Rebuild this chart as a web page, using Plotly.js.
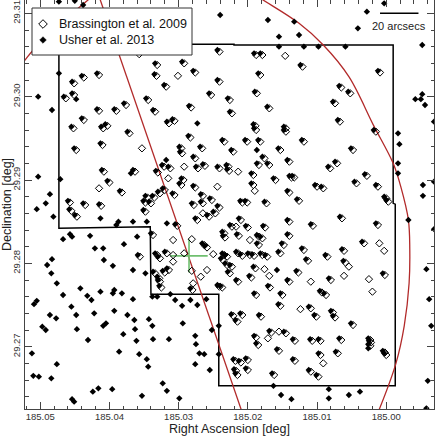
<!DOCTYPE html>
<html><head><meta charset="utf-8">
<script src="https://cdn.plot.ly/plotly-3.0.1.min.js"></script>
<style>html,body{margin:0;padding:0;background:#fff}#chart{width:436px;height:436px}</style>
</head><body><div id="chart"></div>
<script>
// ---- data (degrees) ----
const matchedUsherRA = [185.0334,185.0295,185.0279,185.0244,185.0418,185.0440,185.0454,185.0335,185.0321,185.0244,
185.0454,185.0466,185.0256,185.0418,185.0393,185.0379,185.0440,185.0412,185.0406,185.0455,
185.0374,185.0451,185.0413,185.0411,185.0403,185.0385,185.0460,185.0438,185.0415,185.0458,
185.0450,185.0191,185.0182,185.0124,185.0012,185.0185,185.0190,185.0068,185.0055,185.0077,
185.0070,185.0018,185.0122,185.0051,185.0084,185.0074,185.0031,185.0136,185.0103,185.0094,
185.0046,185.0015,185.0003,185.0000,185.0129,185.0067,185.0347,185.0285,185.0229,185.0172,
185.0226,185.0337,185.0309,185.0317,185.0192,185.0191,185.0148,185.0148,185.0286,185.0237,
185.0204,185.0185,185.0299,185.0298,185.0269,185.0224,185.0156,185.0279,185.0179,185.0187,
185.0172,185.0143,185.0324,185.0315,185.0275,185.0265,185.0244,185.0231,185.0230,185.0195,
185.0163,185.0140,185.0366,185.0333,185.0296,185.0299,185.0279,185.0195,185.0143,185.0323,
185.0330,185.0309,185.0348,185.0338,185.0351,185.0343,185.0268,185.0255,185.0281,185.0268,
185.0211,185.0204,185.0176,185.0351,185.0244,185.0250,185.0259,185.0305,185.0276,185.0143,
185.0226,185.0203,185.0178,185.0340,185.0237,185.0236,185.0216,185.0187,185.0182,185.0143,
185.0266,185.0262,185.0187,185.0151,185.0334,185.0330,185.0320,185.0237,185.0233,185.0217,
185.0211,185.0200,185.0194,185.0182,185.0175,185.0156,185.0359,185.0337,185.0331,185.0330,
185.0323,185.0317,185.0239,185.0233,185.0226,185.0229,185.0283,185.0244,185.0240,185.0217,
185.0192,185.0198,185.0143,185.0171,185.0191,185.0153,185.0156,185.0328,185.0213,185.0109,
185.0015,185.0122,185.0088,185.0064,185.0035,185.0116,185.0130,185.0062,185.0083,185.0005,
185.0096,185.0090,185.0112,185.0104,185.0080,185.0077,185.0051,185.0184,185.0218,185.0211,
185.0224,185.0169,185.0148,185.0191,185.0188,185.0135,185.0110,185.0098,185.0068,185.0026,
185.0025,185.0026,185.0005,185.0003,185.0158,185.0135,185.0098,185.0073,185.0221,185.0213,
185.0203,185.0220,185.0218,185.0203,185.0165,185.0112,185.0101];
const matchedUsherDec = [29.3040,29.3042,29.3031,29.3056,29.3028,29.3025,29.3018,29.3027,29.3014,29.3020,
29.3004,29.3000,29.3004,29.2985,29.2985,29.2992,29.2974,29.2964,29.2967,29.2964,
29.2958,29.2938,29.2944,29.2912,29.2899,29.2887,29.2875,29.2872,29.2871,29.2865,
29.2858,29.3052,29.3052,29.3038,29.3031,29.3028,29.3006,29.3013,29.3006,29.2994,
29.2972,29.2960,29.2948,29.2938,29.2916,29.2922,29.2907,29.2905,29.2894,29.2892,
29.2898,29.2894,29.2880,29.2876,29.2877,29.2856,29.2998,29.2989,29.2998,29.2988,
29.2982,29.2984,29.2973,29.2970,29.2967,29.2962,29.2964,29.2960,29.2953,29.2948,
29.2948,29.2948,29.2940,29.2934,29.2940,29.2936,29.2938,29.2928,29.2928,29.2920,
29.2920,29.2924,29.2918,29.2916,29.2916,29.2919,29.2916,29.2918,29.2913,29.2908,
29.2902,29.2905,29.2912,29.2911,29.2902,29.2896,29.2893,29.2896,29.2887,29.2890,
29.2886,29.2884,29.2881,29.2881,29.2875,29.2874,29.2883,29.2878,29.2872,29.2874,
29.2875,29.2875,29.2874,29.2864,29.2869,29.2862,29.2858,29.2847,29.2854,29.2852,
29.2846,29.2845,29.2845,29.2836,29.2838,29.2833,29.2835,29.2834,29.2832,29.2835,
29.2824,29.2821,29.2824,29.2824,29.2812,29.2808,29.2814,29.2812,29.2810,29.2814,
29.2811,29.2812,29.2811,29.2812,29.2810,29.2814,29.2810,29.2790,29.2784,29.2780,
29.2791,29.2794,29.2806,29.2800,29.2798,29.2790,29.2770,29.2774,29.2773,29.2780,
29.2796,29.2785,29.2780,29.2773,29.2764,29.2764,29.2751,29.2773,29.2854,29.2847,
29.2848,29.2818,29.2810,29.2817,29.2826,29.2805,29.2791,29.2803,29.2782,29.2788,
29.2767,29.2764,29.2748,29.2738,29.2743,29.2737,29.2728,29.2738,29.2732,29.2740,
29.2739,29.2719,29.2718,29.2713,29.2704,29.2709,29.2709,29.2709,29.2710,29.2710,
29.2707,29.2703,29.2695,29.2692,29.2697,29.2685,29.2692,29.2694,29.2685,29.2683,
29.2686,29.2673,29.2668,29.2674,29.2668,29.2672,29.2666];
const matchedBrassRA = [185.0331,185.0292,185.0276,185.0241,185.0415,185.0437,185.0451,185.0332,185.0318,185.0241,
185.0451,185.0463,185.0253,185.0415,185.0390,185.0376,185.0437,185.0409,185.0403,185.0452,
185.0371,185.0448,185.0410,185.0408,185.0400,185.0382,185.0457,185.0435,185.0412,185.0455,
185.0447,185.0188,185.0179,185.0121,185.0009,185.0182,185.0187,185.0065,185.0052,185.0074,
185.0067,185.0015,185.0119,185.0048,185.0081,185.0071,185.0028,185.0133,185.0100,185.0091,
185.0043,185.0012,185.0000,184.9997,185.0126,185.0064,185.0344,185.0282,185.0226,185.0169,
185.0223,185.0334,185.0306,185.0314,185.0189,185.0188,185.0145,185.0145,185.0283,185.0234,
185.0201,185.0182,185.0296,185.0295,185.0266,185.0221,185.0153,185.0276,185.0176,185.0184,
185.0169,185.0140,185.0321,185.0312,185.0272,185.0262,185.0241,185.0228,185.0227,185.0192,
185.0160,185.0137,185.0363,185.0330,185.0293,185.0296,185.0276,185.0192,185.0140,185.0320,
185.0327,185.0306,185.0345,185.0335,185.0348,185.0340,185.0265,185.0252,185.0278,185.0265,
185.0208,185.0201,185.0173,185.0348,185.0241,185.0247,185.0256,185.0302,185.0273,185.0140,
185.0223,185.0200,185.0175,185.0337,185.0234,185.0233,185.0213,185.0184,185.0179,185.0140,
185.0263,185.0259,185.0184,185.0148,185.0331,185.0327,185.0317,185.0234,185.0230,185.0214,
185.0208,185.0197,185.0191,185.0179,185.0172,185.0153,185.0356,185.0334,185.0328,185.0327,
185.0320,185.0314,185.0236,185.0230,185.0223,185.0226,185.0280,185.0241,185.0237,185.0214,
185.0189,185.0195,185.0140,185.0168,185.0188,185.0150,185.0153,185.0325,185.0210,185.0106,
185.0012,185.0119,185.0085,185.0061,185.0032,185.0113,185.0127,185.0059,185.0080,185.0002,
185.0093,185.0087,185.0109,185.0101,185.0077,185.0074,185.0048,185.0181,185.0215,185.0208,
185.0221,185.0166,185.0145,185.0188,185.0185,185.0132,185.0107,185.0095,185.0065,185.0023,
185.0022,185.0023,185.0002,185.0000,185.0155,185.0132,185.0095,185.0070,185.0218,185.0210,
185.0200,185.0217,185.0215,185.0200,185.0162,185.0109,185.0098];
const matchedBrassDec = [29.3038,29.3040,29.3029,29.3054,29.3026,29.3023,29.3016,29.3025,29.3012,29.3018,
29.3002,29.2998,29.3002,29.2983,29.2983,29.2990,29.2972,29.2962,29.2965,29.2962,
29.2956,29.2936,29.2942,29.2910,29.2897,29.2885,29.2873,29.2870,29.2869,29.2863,
29.2856,29.3050,29.3050,29.3036,29.3029,29.3026,29.3004,29.3011,29.3004,29.2992,
29.2970,29.2958,29.2946,29.2936,29.2914,29.2920,29.2905,29.2903,29.2892,29.2890,
29.2896,29.2892,29.2878,29.2874,29.2875,29.2854,29.2996,29.2987,29.2996,29.2986,
29.2980,29.2982,29.2971,29.2968,29.2965,29.2960,29.2962,29.2958,29.2951,29.2946,
29.2946,29.2946,29.2938,29.2932,29.2938,29.2934,29.2936,29.2926,29.2926,29.2918,
29.2918,29.2922,29.2916,29.2914,29.2914,29.2917,29.2914,29.2916,29.2911,29.2906,
29.2900,29.2903,29.2910,29.2909,29.2900,29.2894,29.2891,29.2894,29.2885,29.2888,
29.2884,29.2882,29.2879,29.2879,29.2873,29.2872,29.2881,29.2876,29.2870,29.2872,
29.2873,29.2873,29.2872,29.2862,29.2867,29.2860,29.2856,29.2845,29.2852,29.2850,
29.2844,29.2843,29.2843,29.2834,29.2836,29.2831,29.2833,29.2832,29.2830,29.2833,
29.2822,29.2819,29.2822,29.2822,29.2810,29.2806,29.2812,29.2810,29.2808,29.2812,
29.2809,29.2810,29.2809,29.2810,29.2808,29.2812,29.2808,29.2788,29.2782,29.2778,
29.2789,29.2792,29.2804,29.2798,29.2796,29.2788,29.2768,29.2772,29.2771,29.2778,
29.2794,29.2783,29.2778,29.2771,29.2762,29.2762,29.2749,29.2771,29.2852,29.2845,
29.2846,29.2816,29.2808,29.2815,29.2824,29.2803,29.2789,29.2801,29.2780,29.2786,
29.2765,29.2762,29.2746,29.2736,29.2741,29.2735,29.2726,29.2736,29.2730,29.2738,
29.2737,29.2717,29.2716,29.2711,29.2702,29.2707,29.2707,29.2707,29.2708,29.2708,
29.2705,29.2701,29.2693,29.2690,29.2695,29.2683,29.2690,29.2692,29.2683,29.2681,
29.2684,29.2671,29.2666,29.2672,29.2666,29.2670,29.2664];
const usherOnlyRA = [185.0473,185.0450,185.0438,185.0473,185.0448,185.0503,185.0483,185.0503,185.0471,185.0486,
185.0492,185.0505,185.0481,185.0240,185.0171,185.0133,185.0028,185.0003,185.0041,185.0155,
185.0126,185.0155,185.0119,185.0098,185.0059,184.9948,184.9958,184.9950,184.9948,184.9944,
184.9931,184.9983,184.9981,184.9983,184.9983,184.9947,184.9947,184.9931,185.0273,185.0187,
185.0318,185.0369,185.0366,185.0346,185.0317,185.0360,185.0366,185.0348,185.0158,185.0338,
185.0331,185.0312,185.0305,185.0295,185.0283,185.0273,185.0260,185.0366,185.0413,185.0387,
185.0390,185.0457,185.0454,185.0467,185.0428,185.0421,185.0409,185.0379,185.0483,185.0490,
185.0484,185.0408,185.0395,185.0476,185.0442,185.0467,185.0432,185.0413,185.0426,185.0395,
185.0393,185.0382,185.0509,185.0505,185.0486,185.0477,185.0455,185.0448,185.0422,185.0409,
185.0405,185.0393,185.0374,185.0364,185.0343,185.0338,185.0363,185.0497,185.0492,185.0447,
185.0431,185.0380,185.0361,185.0337,185.0314,185.0294,185.0276,185.0512,185.0386,185.0357,
185.0346,185.0344,185.0476,185.0275,185.0270,185.0263,185.0276,185.0255,185.0252,185.0510,
185.0502,185.0484,185.0323,185.0317,185.0424,185.0416,185.0396,185.0353,185.0299,185.0454,
185.0451,184.9968,184.9931,185.0026,185.0163,185.0152,185.0137,185.0083,185.0083,185.0054,
185.0038,184.9942,184.9938,184.9935,184.9940,184.9942,185.0242,185.0242];
const usherOnlyDec = [29.3114,29.3115,29.3110,29.3028,29.2997,29.3000,29.2984,29.2904,29.2901,29.2883,
29.2872,29.2865,29.2856,29.3098,29.3092,29.3090,29.3102,29.3112,29.3082,29.3072,
29.3074,29.3060,29.3060,29.3060,29.3060,29.3062,29.2997,29.2997,29.3003,29.2990,
29.2970,29.2956,29.2943,29.2920,29.2908,29.2894,29.2881,29.2898,29.2968,29.2936,
29.2924,29.2908,29.2850,29.2850,29.2848,29.2832,29.2792,29.2788,29.2792,29.2760,
29.2760,29.2763,29.2756,29.2749,29.2756,29.2750,29.2757,29.2757,29.2854,29.2850,
29.2846,29.2835,29.2832,29.2829,29.2833,29.2818,29.2818,29.2823,29.2805,29.2798,
29.2788,29.2804,29.2797,29.2776,29.2770,29.2762,29.2761,29.2766,29.2756,29.2764,
29.2768,29.2764,29.2751,29.2755,29.2738,29.2734,29.2748,29.2738,29.2740,29.2725,
29.2728,29.2743,29.2738,29.2732,29.2733,29.2725,29.2721,29.2724,29.2720,29.2721,
29.2708,29.2715,29.2707,29.2709,29.2709,29.2728,29.2713,29.2692,29.2694,29.2691,
29.2685,29.2676,29.2679,29.2703,29.2692,29.2691,29.2679,29.2672,29.2720,29.2665,
29.2664,29.2662,29.2656,29.2647,29.2646,29.2650,29.2649,29.2641,29.2638,29.2637,
29.2634,29.2852,29.2841,29.2698,29.2653,29.2642,29.2637,29.2649,29.2638,29.2642,
29.2646,29.2793,29.2757,29.2725,29.2659,29.2626,29.2725,29.2691];
const brassOnlyRA = [185.0357,185.0301,185.0415,185.0146,185.0353,185.0292,185.0214,185.0315,185.0244,185.0190,
185.0308,185.0281,185.0197,185.0308,185.0292,185.0250,185.0308,185.0281,185.0259,185.0268,
185.0279,185.0176,185.0169,185.0217,185.0265,185.0010,185.0003,185.0054,185.0061,185.0025,
185.0020,185.0109,185.0124,185.0171,185.0155,185.0091];
const brassOnlyDec = [29.3051,29.3025,29.2890,29.3049,29.2938,29.2916,29.2910,29.2902,29.2892,29.2887,
29.2828,29.2829,29.2828,29.2810,29.2812,29.2811,29.2802,29.2791,29.2792,29.2784,
29.2776,29.2793,29.2785,29.2844,29.2860,29.2824,29.2815,29.2796,29.2785,29.2781,
29.2766,29.2778,29.2745,29.2710,29.2718,29.2680];

// field footprint outline
const footprintRA  = [185.0473,185.0473,185.0341,185.0340,185.0242,185.0242,184.9987,184.9987,184.9990,184.9990,185.0220,185.0220,185.0473];
const footprintDec = [29.3063,29.2842,29.2844,29.2763,29.2763,29.2653,29.2653,29.2871,29.2872,29.3062,29.3062,29.3063,29.3063];
// red line (through the centre) and red ellipse arcs
const axisLineRA  = [185.0419,185.0204];
const axisLineDec = [29.3130,29.2611];
const arcWestRA  = [185.0529,185.0522,185.0510,185.0471,185.0431,185.0425];
const arcWestDec = [29.3037,29.3044,29.3056,29.3088,29.3116,29.3121];
const arcEastRA  = [185.0197,185.0178,185.0126,185.0091,185.0054,185.0018,184.9990,184.9979,184.9968,184.9966,184.9967,184.9974,184.9986,185.0010,185.0020];
const arcEastDec = [29.3126,29.3116,29.3088,29.3062,29.3024,29.2965,29.2920,29.2892,29.2852,29.2817,29.2776,29.2725,29.2680,29.2625,29.2606];
// galaxy centre cross
const centreRA = [185.0285], centreDec = [29.2809];
const crossHalfRA = 0.0027, crossHalfDec = 0.0020;
// scale bar
const scaleBarArcsec = 20, scaleBarStartRA = 185.0009, scaleBarDec = 29.3100;

// ---- layout helpers (pixel placement of legend inside plot area) ----
const M = {l:25, r:2, t:0, b:27};
const PW = 436 - M.l - M.r, PH = 436 - M.t - M.b;
const X = px => (px - M.l) / PW;
const Y = py => (PH + M.t - py) / PH;
function diamondPath(cx, cy, h){
  return `M ${X(cx)},${Y(cy-h)} L ${X(cx+h)},${Y(cy)} L ${X(cx)},${Y(cy+h)} L ${X(cx-h)},${Y(cy)} Z`;
}
const red = '#b22a2a';
const traces = [
  {x: footprintRA, y: footprintDec, mode:'lines', line:{color:'#000', width:1.5}, hoverinfo:'skip'},
  {x: axisLineRA, y: axisLineDec, mode:'lines', line:{color:red, width:1.3}, hoverinfo:'skip'},
  {x: arcWestRA, y: arcWestDec, mode:'lines', line:{color:red, width:1.3, shape:'spline'}, hoverinfo:'skip'},
  {x: arcEastRA, y: arcEastDec, mode:'lines', line:{color:red, width:1.3, shape:'spline'}, hoverinfo:'skip'},
  {x: centreRA, y: centreDec, mode:'markers', marker:{size:1, opacity:0},
   error_x:{type:'constant', value:crossHalfRA, width:0, thickness:1.6, color:'#6fbf6f'},
   error_y:{type:'constant', value:crossHalfDec, width:0, thickness:1.6, color:'#6fbf6f'}},
  {name:'Brassington et al. 2009', x: matchedBrassRA.concat(brassOnlyRA), y: matchedBrassDec.concat(brassOnlyDec),
   mode:'markers', marker:{symbol:'diamond-open', size:5.6, color:'#000', line:{width:1, color:'#000'}}},
  {name:'Usher et al. 2013', x: matchedUsherRA.concat(usherOnlyRA), y: matchedUsherDec.concat(usherOnlyDec),
   mode:'markers', marker:{symbol:'diamond', size:4.9, color:'#000', line:{width:0}}}
];
const axCommon = {showgrid:false, zeroline:false, showline:true, linecolor:'#444', linewidth:1,
  mirror:'allticks', ticks:'inside', ticklen:7, tickwidth:1, tickcolor:'#444', tickmode:'linear', dtick:0.01,
  tickformat:'.2f', tickfont:{size:9.5, color:'#333'}, automargin:false};
const layout = {
  width:436, height:436, margin:M, showlegend:false,
  paper_bgcolor:'#fff', plot_bgcolor:'#fff',
  font:{family:'"Liberation Sans", Arial, sans-serif', color:'#222'},
  xaxis: Object.assign({}, axCommon, {range:[185.0522,184.9931], tick0:185.00, ticklabelstandoff:-1,
    minor:{dtick:0.002, tick0:185.00, ticks:'inside', ticklen:3.5, tickcolor:'#444', showgrid:false},
    title:{text:'Right Ascension [deg]', font:{size:12.5, color:'#222'}, standoff:3}}),
  yaxis: Object.assign({}, axCommon, {range:[29.26252,29.3116], tick0:29.27, tickangle:-90,
    minor:{dtick:0.002, tick0:29.27, ticks:'inside', ticklen:3.5, tickcolor:'#444', showgrid:false},
    title:{text:'Declination [deg]', font:{size:12.5, color:'#222'}, standoff:1}}),
  shapes:[
    {type:'line', xref:'x', yref:'y', x0:scaleBarStartRA, x1:scaleBarStartRA - scaleBarArcsec/3600,
     y0:scaleBarDec, y1:scaleBarDec, line:{color:'#000', width:1.5}, layer:'above'},
    {type:'rect', xref:'paper', yref:'paper', x0:X(32), x1:X(192), y0:Y(55), y1:Y(8),
     fillcolor:'#fff', line:{color:'#333', width:1}, layer:'above'},
    {type:'path', xref:'paper', yref:'paper', path:diamondPath(43,24,4.3), line:{color:'#000', width:1}, fillcolor:'rgba(0,0,0,0)', layer:'above'},
    {type:'path', xref:'paper', yref:'paper', path:diamondPath(43,40,3.3), line:{color:'#000', width:0.5}, fillcolor:'#000', layer:'above'}
  ],
  annotations:[
    {xref:'paper', yref:'paper', x:X(57), y:Y(24), xanchor:'left', yanchor:'middle', showarrow:false,
     text:'Brassington et al. 2009', font:{size:12.5, color:'#111'}},
    {xref:'paper', yref:'paper', x:X(57), y:Y(40), xanchor:'left', yanchor:'middle', showarrow:false,
     text:'Usher et al. 2013', font:{size:12.5, color:'#111'}},
    {xref:'x', yref:'y', x:scaleBarStartRA - scaleBarArcsec/7200, y:scaleBarDec, yshift:-13, xanchor:'center', yanchor:'middle',
     showarrow:false, text:scaleBarArcsec + ' arcsecs', font:{size:11, color:'#222'}}
  ]
};
Plotly.newPlot('chart', traces, layout, {staticPlot:true, displayModeBar:false});
</script>
</body></html>
